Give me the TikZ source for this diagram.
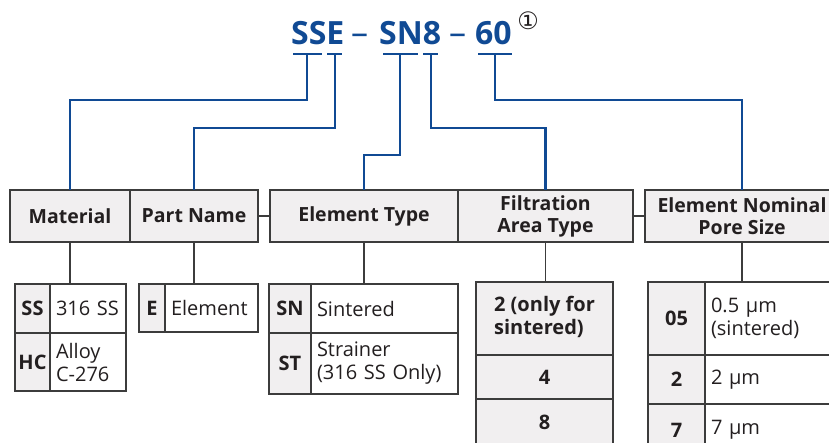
\documentclass[tikz,border=0pt]{standalone}
\usepackage{fontspec}
\setmainfont{Open Sans}
\newfontfamily\symfont{DejaVu Sans}
\usetikzlibrary{positioning}

\definecolor{codeblue}{RGB}{16,74,148}
\definecolor{boxgray}{RGB}{241,239,240}
\definecolor{rulegray}{RGB}{60,60,60}
\definecolor{inkgray}{RGB}{35,31,32}

\begin{document}
\begin{tikzpicture}[
  x=1pt, y=-1pt,
  hdr/.style={rectangle, draw=rulegray, fill=boxgray, line width=1.3pt, minimum height=52pt,
    inner sep=0pt, outer sep=0pt, align=center, text=inkgray, font=\bfseries\fontsize{19.5}{22}\selectfont},
  codecell/.style={rectangle, draw=rulegray, fill=boxgray, line width=1.3pt,
    inner sep=0pt, outer sep=0pt, align=center, text=inkgray, font=\bfseries\fontsize{20}{23}\selectfont},
  desccell/.style={rectangle, draw=rulegray, fill=white, line width=1.3pt, inner xsep=6pt,
    inner ysep=0pt, outer sep=0pt, align=left, text=inkgray, font=\fontsize{20}{23}\selectfont},
  title/.style={inner sep=0pt, anchor=base west, text=codeblue, font=\bfseries\fontsize{32}{32}\selectfont},
  sepdash/.style={title, font=\fontsize{34}{34}\selectfont},
  blueline/.style={draw=codeblue, line width=2.2pt},
  link/.style={draw=rulegray, line width=1.3pt}
]
\useasboundingbox (0,0) rectangle (829,442);

% part number
\node (sse) [title] at (291,44) {SSE};
\node (dasha) [sepdash] at (351,44) {–};
\node (sn8) [title] at (379,44) {SN8};
\node (dashb) [sepdash] at (449,44) {–};
\node (sixty) [title] at (475,44) {60};
\node (note) [inner sep=0pt, text=inkgray, font=\symfont\fontsize{24}{24}\selectfont] at (528,21) {①};

\draw[blueline] (293,54) -- (322,54);
\draw[blueline] (327,54) -- (342,54);
\draw[blueline] (383,54) -- (418,54);
\draw[blueline] (423,54) -- (438,54);
\draw[blueline] (478,54) -- (512,54);
\coordinate (ssmark) at (307,54);
\coordinate (emark) at (335,54);
\coordinate (snmark) at (400,54);
\coordinate (areamark) at (431,54);
\coordinate (poremark) at (495,54);

% headings
\node (mat) [hdr, minimum width=120pt, anchor=north west] at (10,190) {Material};
\node (part) [hdr, minimum width=128pt, right=0pt of mat] {Part Name};
\node (etype) [hdr, minimum width=188pt, right=12pt of part] {Element Type};
\node (farea) [hdr, minimum width=175pt, right=0pt of etype] {Filtration\\Area Type};
\node (pore) [hdr, minimum width=194pt, right=12pt of farea] {Element Nominal\\Pore Size};

\draw[blueline] (ssmark) -- ++(0,46) -| (mat.north);
\draw[blueline] (emark) -- ++(0,74) -| (part.north);
\draw[blueline] (snmark) -- ++(0,101) -| (etype.north);
\draw[blueline] (areamark) -- ++(0,74) -| (farea.north);
\draw[blueline] (poremark) -- ++(0,46) -| (pore.north);

% material
\node (sscode) [codecell, minimum width=35pt, minimum height=49pt, anchor=north west] at (15,284) {SS};
\node (ssdesc) [desccell, text width=64pt, minimum height=49pt, right=0pt of sscode] {316 SS};
\node (hccode) [codecell, minimum width=35pt, minimum height=58pt, below=0pt of sscode] {HC};
\node (hcdesc) [desccell, text width=64pt, minimum height=58pt, right=0pt of hccode] {Alloy\\C-276};

% part name
\node (ecode) [codecell, minimum width=26pt, minimum height=48pt, anchor=north west] at (139,284) {E};
\node (edesc) [desccell, text width=81pt, minimum height=48pt, right=0pt of ecode] {Element};

% element type
\node (sncode) [codecell, minimum width=42pt, minimum height=49pt, anchor=north west] at (269,284) {SN};
\node (sndesc) [desccell, text width=135pt, minimum height=49pt, right=0pt of sncode] {Sintered};
\node (stcode) [codecell, minimum width=42pt, minimum height=61pt, below=0pt of sncode] {ST};
\node (stdesc) [desccell, text width=135pt, minimum height=61pt, right=0pt of stcode] {Strainer\\(316 SS Only)};

% filtration area
\node (area2) [codecell, minimum width=137pt, minimum height=73pt, anchor=north west] at (476,282)
  {\begin{tabular}{@{}l@{}}2 (only for\\sintered)\end{tabular}};
\node (area4) [codecell, minimum width=137pt, minimum height=44pt, below=0pt of area2] {4};
\node (area8) [codecell, minimum width=137pt, minimum height=46pt, below=0pt of area4] {8};

% pore size
\node (p05code) [codecell, minimum width=57pt, minimum height=73pt, anchor=north west] at (648,282) {05};
\node (p05desc) [desccell, text width=150pt, minimum height=73pt, right=0pt of p05code] {0.5 µm\\(sintered)};
\node (p2code) [codecell, minimum width=57pt, minimum height=49pt, below=0pt of p05code] {2};
\node (p2desc) [desccell, text width=150pt, minimum height=49pt, right=0pt of p2code] {2 µm};
\node (p7code) [codecell, minimum width=57pt, minimum height=52pt, below=0pt of p2code] {7};
\node (p7desc) [desccell, text width=150pt, minimum height=52pt, right=0pt of p7code] {7 µm};

\draw[link] (part.east) -- (etype.west);
\draw[link] (farea.east) -- (pore.west);
\draw[link] (mat.south) -- (mat.south |- sscode.north);
\draw[link] (part.south) -- (part.south |- ecode.north);
\draw[link] (etype.south) -- (etype.south |- sncode.north);
\draw[link] (farea.south) -- (farea.south |- area2.north);
\draw[link] (pore.south) -- (pore.south |- p05code.north);

\end{tikzpicture}
\end{document}
